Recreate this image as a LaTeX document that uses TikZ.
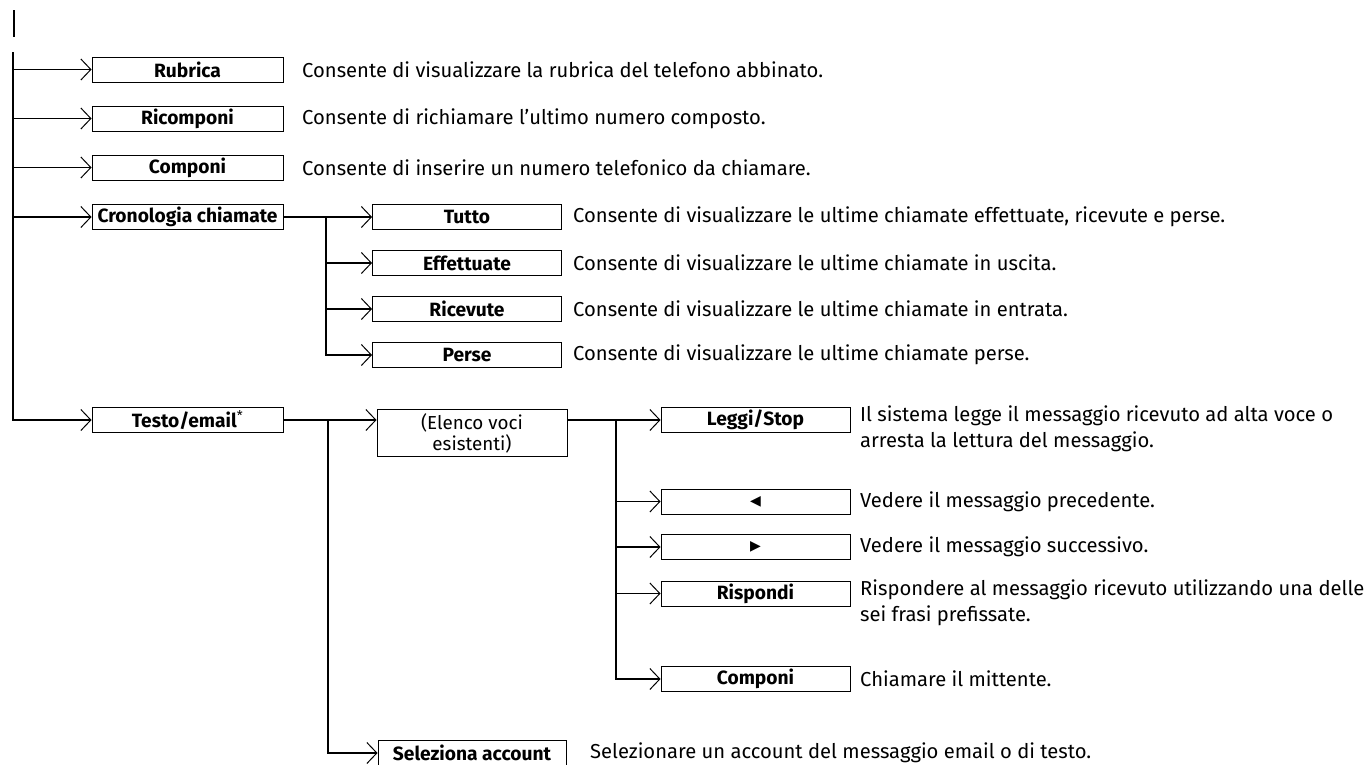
\documentclass[tikz,border=0pt]{standalone}
\usepackage{fontspec}
\setmainfont{Fira Sans}
\newfontfamily\symfont{DejaVu Sans}
\usetikzlibrary{arrows.meta}
\begin{document}
\begin{tikzpicture}[x=1pt,y=-1pt,
  conn/.style={line width=1.9pt},
  arr/.style={conn,-{Straight Barb[length=10pt,width=21pt,line width=1pt]}},
  menubox/.style={draw,line width=0.9pt,minimum height=25pt,inner sep=0pt,
    font=\bfseries\fontsize{19.2}{21}\selectfont},
  lvone/.style={menubox,minimum width=191pt},
  lvtwo/.style={menubox,minimum width=189pt},
  lvthree/.style={menubox,minimum width=189pt},
  desc/.style={anchor=west,inner sep=0pt,font=\fontsize{20.2}{26}\selectfont},
  desctwo/.style={anchor=north west,inner sep=0pt,align=left,font=\fontsize{20.2}{26}\selectfont}
]
\useasboundingbox (0,0) rectangle (1368,764);

% top short line
\coordinate (s0) at (14,10);
\coordinate (s1) at (14,37);
\draw[conn] (s0) -- (s1);

% level one boxes
\node[lvone] (rub) at (187.5,69.5) {Rubrica};
\node[lvone] (ricomp) at (187.5,118.5) {Ricomponi};
\node[lvone] (comp) at (187.5,167.5) {Componi};
\node[lvone] (crono) at (187.5,217) {Cronologia chiamate};
\node[lvone] (testo) at (187.5,420) {Testo/email\textsuperscript{\mdseries*}};

\node[desc] (drub) at (302,69.5) {Consente di visualizzare la rubrica del telefono abbinato.};
\node[desc] (dricomp) at (302,118.5) {Consente di richiamare l'ultimo numero composto.};
\node[desc] (dcomp) at (302,167.5) {Consente di inserire un numero telefonico da chiamare.};

% trunk
\coordinate (m0) at (13,52);
\draw[arr] (m0) |- (testo.west);
\draw[arr] (m0 |- rub.west) -- (rub.west);
\draw[arr] (m0 |- ricomp.west) -- (ricomp.west);
\draw[arr] (m0 |- comp.west) -- (comp.west);
\draw[arr] (m0 |- crono.west) -- (crono.west);

% Cronologia children
\node[lvtwo] (tutto) at (467,217) {Tutto};
\node[lvtwo] (eff) at (467,263) {Effettuate};
\node[lvtwo] (ric) at (467,309) {Ricevute};
\node[lvtwo] (perse) at (467,355) {Perse};
\node[desc] (dtutto) at (573,217) {Consente di visualizzare le ultime chiamate effettuate, ricevute e perse.};
\node[desc] (deff) at (573,263) {Consente di visualizzare le ultime chiamate in uscita.};
\node[desc] (dric) at (573,309) {Consente di visualizzare le ultime chiamate in entrata.};
\node[desc] (dperse) at (573,355) {Consente di visualizzare le ultime chiamate perse.};

\coordinate (c0) at (326,217);
\draw[conn] (crono.east) -- (c0);
\draw[arr] (c0) -- (tutto.west);
\draw[arr] (c0) |- (perse.west);
\draw[arr] (c0 |- eff.west) -- (eff.west);
\draw[arr] (c0 |- ric.west) -- (ric.west);

% Testo children
\node[menubox,minimum width=190pt,minimum height=47pt,anchor=north,align=center,
  font=\fontsize{18.8}{21}\selectfont] (elenco) at (472,409) {(Elenco voci\\esistenti)};
\node[menubox,minimum width=188pt] (selez) at (472,753) {Seleziona account};
\node[desc] (dselez) at (590,753) {Selezionare un account del messaggio email o di testo.};

\coordinate (t0) at (328,420);
\draw[conn] (testo.east) -- (t0);
\draw[arr] (t0) -- (elenco.west |- t0);
\draw[arr] (t0) |- (selez.west);

% Elenco children
\node[lvthree] (leggi) at (755.5,420) {Leggi/Stop};
\node[lvthree] (prev) at (755.5,501.5) {\symfont\mdseries\fontsize{14}{15}\selectfont ◀};
\node[lvthree] (next) at (755.5,547) {\symfont\mdseries\fontsize{14}{15}\selectfont ▶};
\node[lvthree] (risp) at (755.5,593.5) {Rispondi};
\node[lvthree] (comp2) at (755.5,679) {Componi};

\node[desctwo] (dleggi) at (860,406) {Il sistema legge il messaggio ricevuto ad alta voce o\\arresta la lettura del messaggio.};
\node[desc] (dprev) at (860,501.5) {Vedere il messaggio precedente.};
\node[desc] (dnext) at (860,547) {Vedere il messaggio successivo.};
\node[desctwo] (drisp) at (860,579.5) {Rispondere al messaggio ricevuto utilizzando una delle\\sei frasi prefissate.};
\node[desc] (dcomp2) at (860,679) {Chiamare il mittente.};

\coordinate (e0) at (616,420);
\draw[conn] (elenco.east |- e0) -- (e0);
\draw[arr] (e0) -- (leggi.west);
\draw[arr] (e0) |- (comp2.west);
\draw[arr] (e0 |- prev.west) -- (prev.west);
\draw[arr] (e0 |- next.west) -- (next.west);
\draw[arr] (e0 |- risp.west) -- (risp.west);
\end{tikzpicture}
\end{document}
